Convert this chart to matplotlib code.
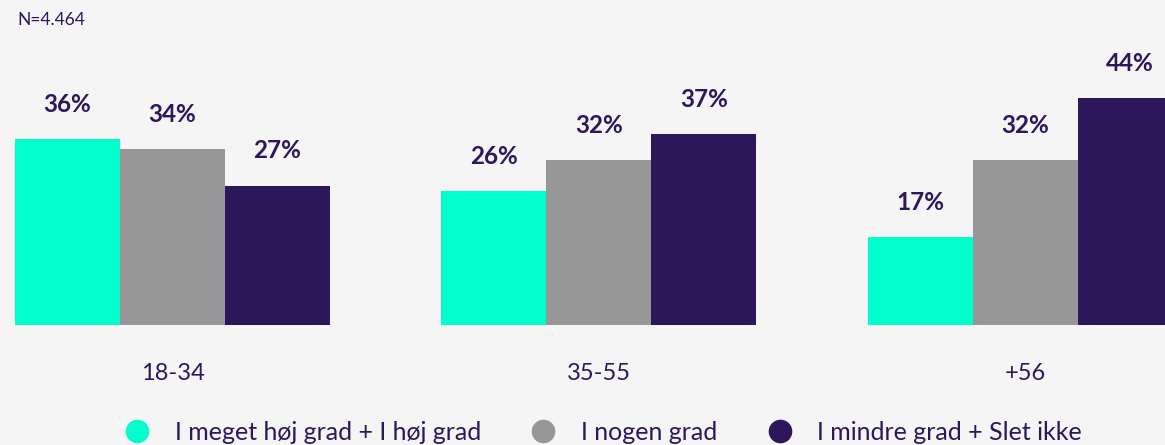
import numpy as np
import matplotlib.pyplot as plt
from matplotlib.lines import Line2D

# data
groups = ["18-34", "35-55", "+56"]
series = ["I meget høj grad + I høj grad", "I nogen grad", "I mindre grad + Slet ikke"]
high = [36, 26, 17]
some = [34, 32, 32]
low = [27, 37, 44]
note = "N=4.464"

colors = ["#00FFCC", "#979797", "#2E165B"]
text_color = "#2E165B"
bg = "#F5F5F5"

plt.rcParams['font.family'] = ['Lato', 'DejaVu Sans']

fig = plt.figure(figsize=(11.65, 4.45), dpi=100, facecolor=bg)
ax = fig.add_axes([0, 120 / 445, 1, 325 / 445])
ax.set_facecolor(bg)

gap = 4.06
x = np.arange(len(groups)) * gap
for i, (vals, c) in enumerate(zip([high, some, low], colors)):
    bars = ax.bar(x + (i - 1), vals, width=1.0, color=c, linewidth=0)
    for b, v in zip(bars, vals):
        ax.text(b.get_x() + b.get_width() / 2, v + 6.7, f"{v}%",
                ha="center", va="center", fontsize=17.5, fontweight="bold",
                color=text_color)

ax.set_xlim(-1.5 - 15 / 105, -1.5 - 15 / 105 + 1165 / 105)
ax.set_ylim(0, 325 / 5.165)
ax.set_yticks([])
ax.set_xticks(x)
ax.set_xticklabels(groups, fontsize=17, color=text_color)
ax.tick_params(axis="x", length=0, pad=27)
for s in ax.spines.values():
    s.set_visible(False)

fig.text(17 / 1165, 1 - 20 / 445, note, fontsize=12.5, color=text_color,
         ha="left", va="center")

handles = [Line2D([], [], marker="o", linestyle="", markersize=16,
                  markerfacecolor=c, markeredgecolor=c) for c in colors]
fig.legend(handles, series, loc="center", bbox_to_anchor=(597 / 1165, 13 / 445),
           ncol=3, frameon=False, fontsize=18, labelcolor=text_color,
           handletextpad=0.5, columnspacing=1.5)

fig.savefig("out.png", dpi=100, facecolor=bg)
